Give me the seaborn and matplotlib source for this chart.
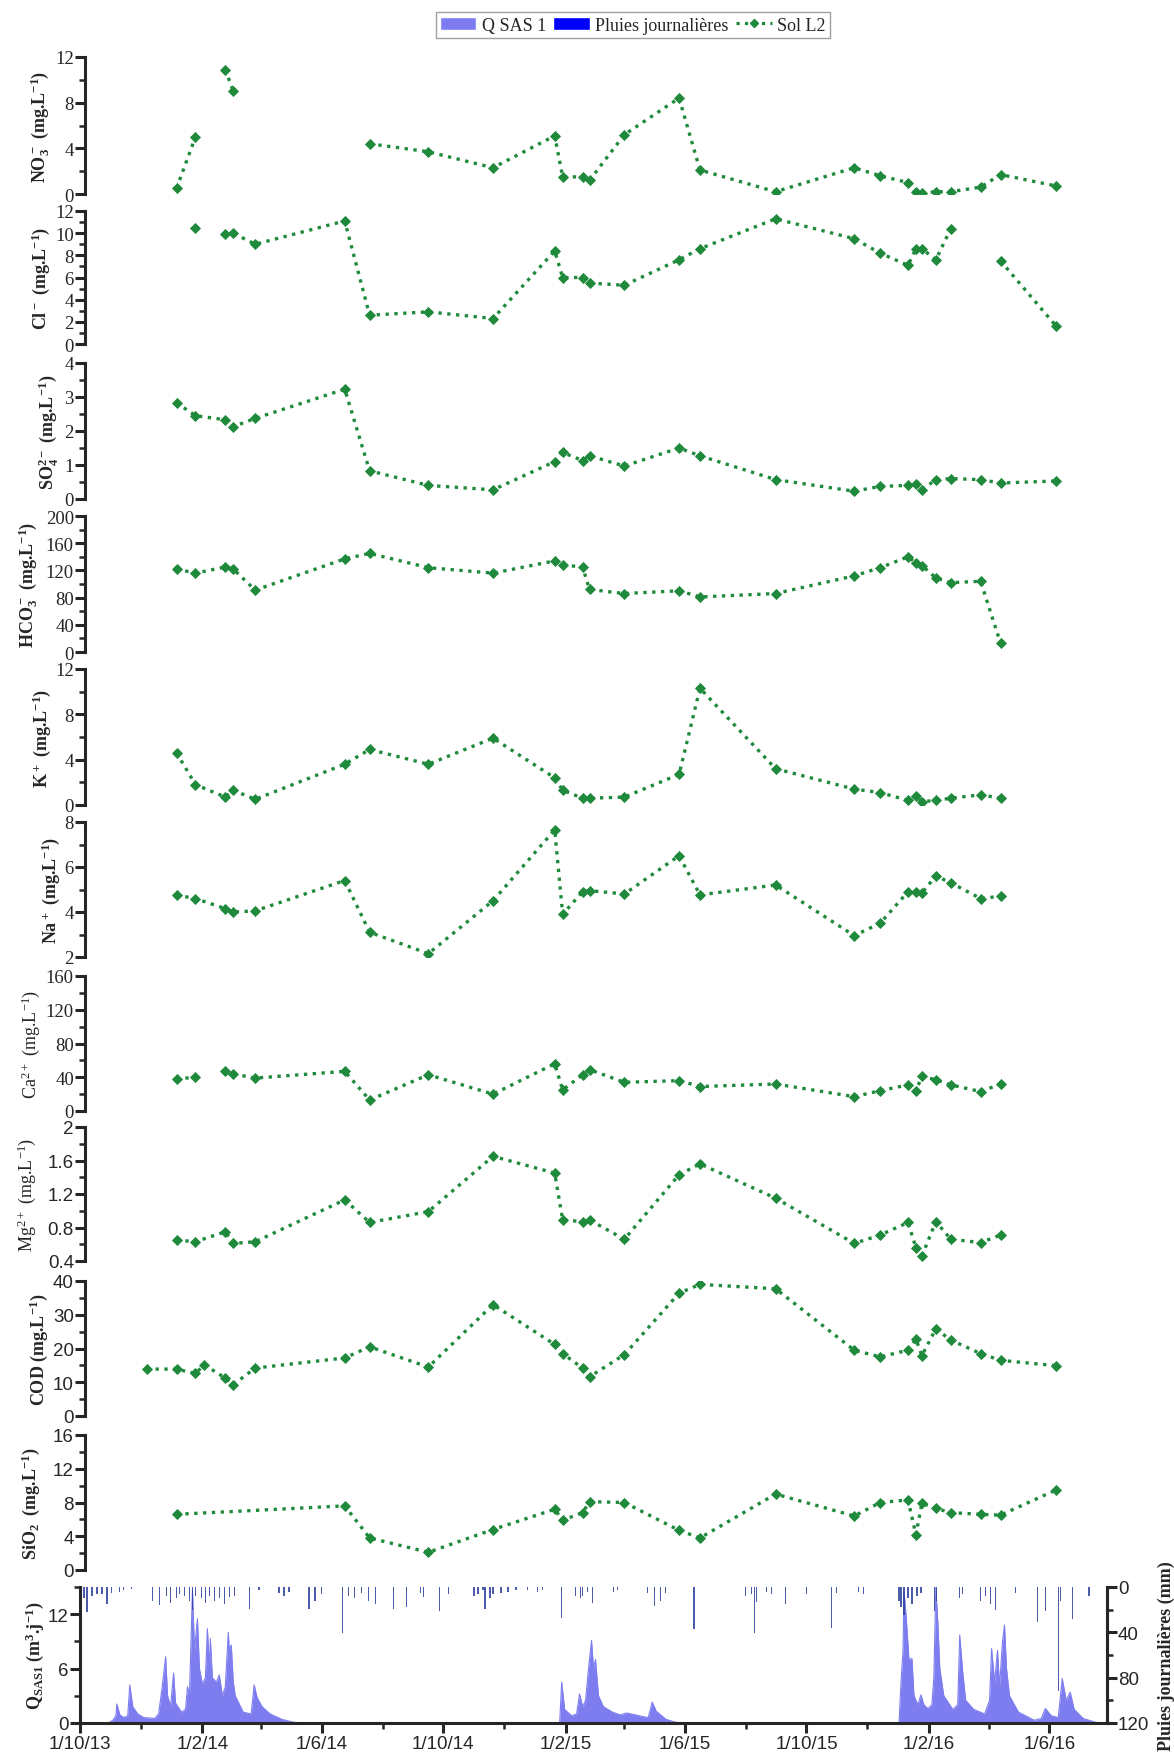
import numpy as np
import pandas as pd
import matplotlib
matplotlib.use("Agg")
import matplotlib.pyplot as plt
from matplotlib.ticker import MultipleLocator, FixedLocator, FuncFormatter
from matplotlib.lines import Line2D
from matplotlib.patches import Patch
import matplotlib.dates as mdates
import seaborn as sns

nan = np.nan

# sampling dates (Sol L2)
SAMPLE_DATES = ["2013-12-07", "2014-01-06", "2014-01-25", "2014-02-03", "2014-02-24",
                "2014-03-04", "2014-03-26", "2014-06-24", "2014-07-19", "2014-09-16",
                "2014-11-20", "2015-01-21", "2015-01-29", "2015-02-18", "2015-02-25",
                "2015-04-01", "2015-05-26", "2015-06-16", "2015-08-31", "2015-11-18",
                "2015-12-14", "2016-01-11", "2016-01-19", "2016-01-25", "2016-02-08",
                "2016-02-23", "2016-03-24", "2016-04-13", "2016-06-08"]

NO3 = [nan, 0.5, 5.0, nan, 10.9, 9.0, nan, nan, 4.4, 3.7, 2.3, 5.1, 1.5, 1.5, 1.2,
       5.2, 8.4, 2.1, 0.2, 2.3, 1.6, 1.0, 0.2, 0.1, 0.2, 0.2, 0.6, 1.7, 0.7]
CL = [nan, nan, 10.5, nan, 9.9, 10.0, 9.0, 11.1, 2.6, 2.9, 2.3, 8.4, 6.0, 6.0, 5.5,
      5.3, 7.6, 8.6, 11.3, 9.5, 8.2, 7.1, 8.6, 8.6, 7.6, 10.4, nan, 7.5, 1.6]
SO4 = [nan, 2.83, 2.45, nan, 2.33, 2.13, 2.37, 3.23, 0.83, 0.4, 0.27, 1.1, 1.37, 1.13, 1.27,
       0.97, 1.5, 1.27, 0.57, 0.23, 0.37, 0.4, 0.45, 0.27, 0.57, 0.6, 0.57, 0.47, 0.53]
HCO3 = [nan, 122, 116, nan, 125, 122, 91, 137, 145, 124, 116, 134, 128, 125, 92,
        86, 90, 81, 86, 112, 124, 140, 131, 127, 109, 102, 104, 13, nan]
K = [nan, 4.6, 1.8, nan, 0.7, 1.3, 0.5, 3.6, 4.9, 3.6, 5.9, 2.4, 1.3, 0.6, 0.6,
     0.7, 2.7, 10.3, 3.2, 1.4, 1.1, 0.4, 0.8, 0.3, 0.4, 0.6, 0.9, 0.6, nan]
NA = [nan, 4.75, 4.6, nan, 4.15, 4.0, 4.05, 5.4, 3.1, 2.15, 4.5, 7.65, 3.9, 4.9, 4.95,
      4.8, 6.5, 4.76, 5.2, 2.95, 3.5, 4.9, 4.9, 4.85, 5.6, 5.3, 4.6, 4.7, nan]
CA = [nan, 38, 40, nan, 47, 44, 39, 47, 13, 43, 20, 56, 25, 43, 49,
      34, 36, 29, 32, 17, 24, 31, 24, 41, 37, 31, 23, 32, nan]
MG = [nan, 0.65, 0.63, nan, 0.75, 0.61, 0.63, 1.13, 0.86, 0.99, 1.65, 1.45, 0.89, 0.87, 0.89,
      0.66, 1.43, 1.56, 1.15, 0.61, 0.71, 0.86, 0.56, 0.46, 0.87, 0.66, 0.62, 0.71, nan]
COD = [13.9, 13.9, 12.6, 15.2, 11.2, 9.3, 14.2, 17.2, 20.5, 14.5, 33.0, 21.2, 18.5, 14.2, 11.6,
       18.2, 36.4, 39.0, 37.7, 19.5, 17.5, 19.5, 22.8, 17.9, 25.8, 22.5, 18.5, 16.5, 14.9]
SIO2 = [nan, 6.6, nan, nan, nan, nan, nan, 7.6, 3.8, 2.1, 4.8, 7.2, 5.9, 6.8, 8.1,
        8.0, 4.7, 3.8, 9.0, 6.4, 8.0, 8.3, 4.2, 7.9, 7.3, 6.8, 6.6, 6.5, 9.5]

# Q SAS1 (m3/j), days since 1/10/13
Q_DAYS = [0, 29, 33, 36, 37, 40, 44, 48, 50, 53, 58, 64, 75, 79, 82, 84, 86, 88, 91, 94,
          96, 102, 106, 108, 110, 113, 115, 118, 120, 123, 126, 128, 130, 131, 133, 137, 140,
          143, 146, 149, 150, 152, 154, 156, 164, 172, 175, 178, 183, 191, 203, 214, 222,
          482, 484, 487, 494, 499, 502, 505, 508, 511, 514, 516, 518, 521, 526, 535, 543,
          549, 554, 566, 571, 575, 579, 589, 598, 606,
          823, 825, 827, 828, 830, 833, 836, 838, 842, 845, 848, 852, 856, 858, 860, 862, 864,
          868, 877, 882, 884, 887, 890, 898, 909, 914, 916, 919, 922, 924, 927, 929, 931, 934,
          943, 959, 966, 970, 976, 983, 987, 991, 995, 999, 1008, 1020, 1025, 1032]
Q_VALUES = [0, 0.05, 0.3, 0.8, 2.1, 0.9, 0.6, 0.8, 4.2, 1.8, 1.0, 0.6, 0.5, 1.0, 3.5, 5.3, 7.3, 3.0, 1.8, 5.5,
            2.2, 1.2, 1.5, 4.0, 3.0, 14.7, 8.0, 11.5, 6.0, 4.3, 5.0, 10.4, 6.0, 9.3, 5.0, 4.5, 5.3,
            3.0, 4.0, 10.0, 8.0, 8.6, 4.5, 3.0, 1.2, 1.0, 4.2, 2.8, 1.8, 1.0, 0.4, 0.1, 0,
            0, 4.5, 1.5, 0.8, 1.0, 3.2, 1.8, 2.5, 6.0, 9.1, 6.0, 7.0, 3.0, 1.8, 1.2, 0.9,
            1.1, 1.0, 0.7, 0.6, 2.3, 1.3, 0.4, 0.1, 0,
            0, 4.5, 8.0, 14.5, 12.0, 7.0, 7.1, 3.0, 2.0, 3.1, 2.0, 1.6, 2.0, 5.0, 15.0, 11.0, 6.0,
            3.0, 1.5, 2.0, 9.7, 5.6, 2.5, 1.5, 1.0, 2.5, 8.2, 4.5, 8.0, 4.0, 9.0, 10.8, 6.0, 3.0,
            1.2, 0.3, 0.5, 1.6, 0.8, 0.6, 4.9, 2.5, 3.4, 1.5, 0.5, 0.1, 0, 0]

# daily rainfall (mm), days since 1/10/13
RAIN_DAYS = [4, 7, 12, 17, 22, 27, 32, 40, 44, 52, 73, 80, 87, 91, 97, 100, 105, 110, 113, 116,
             122, 126, 130, 135, 140, 145, 150, 155, 170, 180, 200, 205, 210, 230, 236, 243,
             264, 270, 276, 283, 290, 297, 315, 328, 342, 345, 361, 370, 396, 400, 405, 407,
             412, 415, 423, 430, 438, 450, 460, 465, 484, 498, 503, 505, 510, 515, 536, 540,
             570, 577, 583, 588, 617, 669, 675, 678, 680, 690, 695, 709, 730, 755, 760, 782,
             787, 823, 825, 828, 832, 836, 841, 845, 859, 861, 884, 887, 905, 910, 915, 920,
             940, 962, 970, 983, 985, 997, 1014]
RAIN_MM = [10, 22, 8, 6, 6, 15, 5, 4, 3, 2, 12, 16, 8, 14, 10, 6, 8, 12, 20, 8,
           10, 14, 8, 12, 10, 15, 9, 8, 19, 3, 5, 8, 4, 19, 12, 6,
           41, 8, 10, 5, 12, 15, 19, 18, 5, 9, 21, 6, 8, 6, 3, 19,
           10, 6, 5, 4, 3, 3, 4, 3, 27, 8, 10, 8, 4, 14, 4, 3,
           5, 17, 12, 5, 37, 8, 6, 41, 13, 4, 6, 15, 6, 36, 5, 4,
           6, 12, 18, 25, 10, 15, 8, 5, 21, 12, 10, 6, 12, 8, 15, 20,
           5, 31, 21, 92, 12, 28, 8]

GREEN = "#1f8a3c"
Q_COLOR = "#7d7df0"
RAIN_COLOR = "#2b3f9c"

sns.set_style("ticks")
plt.rcParams["font.family"] = ["Liberation Serif", "DejaVu Serif"]
plt.rcParams["mathtext.default"] = "regular"

W, H = 1174, 1758
fig = plt.figure(figsize=(W / 100, H / 100), dpi=100)

base = pd.Timestamp("2013-10-01")
x_end = base + pd.Timedelta(days=1032)
sample_dates = pd.to_datetime(SAMPLE_DATES)

# label, values, connect over gaps, ylim, major, minor, serif ticks, bold, top, bottom, label x
panels = [
    (r"NO$_3^-$ (mg.L$^{-1}$)", NO3, False, (0, 12), 4, 2, True, True, 58, 195, 52),
    (r"Cl$^-$ (mg.L$^{-1}$)", CL, False, (0, 12), 2, 1, True, True, 212, 345, 52),
    (r"SO$_4^{2-}$ (mg.L$^{-1}$)", SO4, True, (0, 4), 1, 0.5, True, True, 364, 500, 60),
    (r"HCO$_3^-$ (mg.L$^{-1}$)", HCO3, True, (0, 200), 40, 20, True, True, 517, 653, 40),
    (r"K$^+$ (mg.L$^{-1}$)", K, True, (0, 12), 4, 2, True, True, 670, 806, 53),
    (r"Na$^+$ (mg.L$^{-1}$)", NA, True, (2, 8), 2, 1, True, True, 823, 958, 62),
    (r"Ca$^{2+}$ (mg.L$^{-1}$)", CA, False, (0, 160), 40, 20, True, False, 977, 1112, 42),
    (r"Mg$^{2+}$ (mg.L$^{-1}$)", MG, True, (0.4, 2.0), 0.4, 0.2, False, False, 1128, 1262, 38),
    (r"COD (mg.L$^{-1}$)", COD, True, (0, 40), 10, 5, False, True, 1282, 1417, 50),
    (r"SiO$_2$  (mg.L$^{-1}$)", SIO2, True, (0, 16), 4, 2, False, True, 1436, 1571, 42),
]

fmt = FuncFormatter(lambda v, p: f"{v:g}")


def style_yaxis(ax, major, minor, serif_ticks):
    ax.yaxis.set_major_locator(MultipleLocator(major))
    ax.yaxis.set_minor_locator(MultipleLocator(minor))
    ax.yaxis.set_major_formatter(fmt)
    ax.tick_params(axis="y", which="major", direction="out", length=7, width=2.2,
                   labelsize=13.5, pad=1)
    ax.tick_params(axis="y", which="minor", direction="out", length=4, width=1.8)
    fam = ["Liberation Serif"] if serif_ticks else ["Liberation Sans"]
    for lab in ax.get_yticklabels():
        lab.set_fontfamily(fam)


up_left = 85
up_start = base + pd.Timedelta(days=5)
for label, vals, connect, ylim, major, minor, serif_ticks, bold, top, bot, lx in panels:
    ax = fig.add_axes([up_left / W, 1 - bot / H, (1107 - up_left) / W, (bot - top) / H])
    s = pd.Series(vals, index=sample_dates, dtype=float)
    if connect:
        groups = [s.dropna()]
    else:
        groups = [g.dropna() for _, g in s.groupby(s.isna().cumsum())]
    for g in groups:
        if len(g) == 0:
            continue
        sns.lineplot(x=g.index, y=g.values, ax=ax, color=GREEN, linestyle=":", linewidth=2.4,
                     marker="D", markersize=5, markeredgewidth=0.6, markeredgecolor=GREEN,
                     legend=False)
    ax.set_xlim(up_start, x_end)
    ax.set_ylim(*ylim)
    for sp in ["top", "right", "bottom"]:
        ax.spines[sp].set_visible(False)
    ax.spines["left"].set_linewidth(2.2)
    ax.set_xticks([])
    ax.set_xlabel("")
    style_yaxis(ax, major, minor, serif_ticks)
    ax.set_ylabel(label, fontsize=13, fontweight="bold" if bold else "normal",
                  family=["Liberation Serif"])
    ax.yaxis.set_label_coords((lx - up_left) / (1107 - up_left), 0.5)
    ax.patch.set_alpha(0)

# hydrograph panel
q_left, q_top, q_bot = 80, 1588, 1724
axq = fig.add_axes([q_left / W, 1 - q_bot / H, (1107 - q_left) / W, (q_bot - q_top) / H])
q_dates = base + pd.to_timedelta(Q_DAYS, unit="D")
axq.fill_between(q_dates, 0, Q_VALUES, color=Q_COLOR, linewidth=0)
sns.lineplot(x=q_dates, y=Q_VALUES, ax=axq, color=Q_COLOR, linewidth=0.8, legend=False)
axq.set_xlim(base, x_end)
axq.set_ylim(0, 15)
axq.spines["top"].set_visible(False)
for sp in ["left", "bottom", "right"]:
    axq.spines[sp].set_linewidth(2.2)
style_yaxis(axq, 6, 3, False)
axq.set_ylabel(r"Q$_{SAS1}$ (m$^3$.j$^{-1}$)", fontsize=13, fontweight="bold",
               family=["Liberation Serif"])
axq.yaxis.set_label_coords((46 - q_left) / (1107 - q_left), 0.5)

ax2 = axq.twinx()
rain_dates = base + pd.to_timedelta(RAIN_DAYS, unit="D")
ax2.bar(rain_dates, RAIN_MM, width=1.3, color=RAIN_COLOR, linewidth=0, alpha=0.85)
ax2.set_ylim(120, 0)
ax2.set_xlim(base, x_end)
ax2.spines["top"].set_visible(False)
ax2.spines["right"].set_linewidth(2.2)
ax2.yaxis.set_major_locator(MultipleLocator(40))
ax2.yaxis.set_minor_locator(MultipleLocator(20))
ax2.yaxis.set_major_formatter(fmt)
ax2.tick_params(axis="y", which="major", direction="out", length=7, width=2.2, labelsize=13.5, pad=1)
ax2.tick_params(axis="y", which="minor", direction="out", length=4, width=1.8)
for lab in ax2.get_yticklabels():
    lab.set_fontfamily(["Liberation Sans"])
ax2.set_ylabel("Pluies journalières (mm)", fontsize=13, fontweight="bold",
               family=["Liberation Serif"], labelpad=6)

major_dates = pd.to_datetime(["2013-10-01", "2014-02-01", "2014-06-01", "2014-10-01", "2015-02-01",
                              "2015-06-01", "2015-10-01", "2016-02-01", "2016-06-01"])
major_labels = ["1/10/13", "1/2/14", "1/6/14", "1/10/14", "1/2/15", "1/6/15", "1/10/15",
                "1/2/16", "1/6/16"]
minor_dates = pd.to_datetime(["2013-12-01", "2014-04-01", "2014-08-01", "2014-12-01", "2015-04-01",
                              "2015-08-01", "2015-12-01", "2016-04-01"])
axq.xaxis.set_major_locator(FixedLocator(mdates.date2num(major_dates.to_pydatetime())))
axq.xaxis.set_minor_locator(FixedLocator(mdates.date2num(minor_dates.to_pydatetime())))
axq.set_xticklabels(major_labels)
axq.tick_params(axis="x", which="major", direction="out", length=7, width=2.2, labelsize=13.5, pad=2)
axq.tick_params(axis="x", which="minor", direction="out", length=4, width=1.8)
for lab in axq.get_xticklabels():
    lab.set_fontfamily(["Liberation Sans"])
axq.set_xlabel("")

handles = [Patch(facecolor=Q_COLOR, label="Q SAS 1"),
           Patch(facecolor="#0000ff", label="Pluies journalières"),
           Line2D([], [], color=GREEN, linestyle=":", linewidth=2.3, marker="D", markersize=4,
                  label="Sol L2")]
fig.legend(handles=handles, loc="upper center", bbox_to_anchor=(633 / W, 1 - 4 / H), ncol=3,
           frameon=True, fancybox=False, edgecolor="#888888", fontsize=13, handlelength=2.0,
           handletextpad=0.3, columnspacing=0.4, borderpad=0.25,
           prop={"family": "Liberation Serif", "size": 13})

fig.savefig("out.png", dpi=100)
